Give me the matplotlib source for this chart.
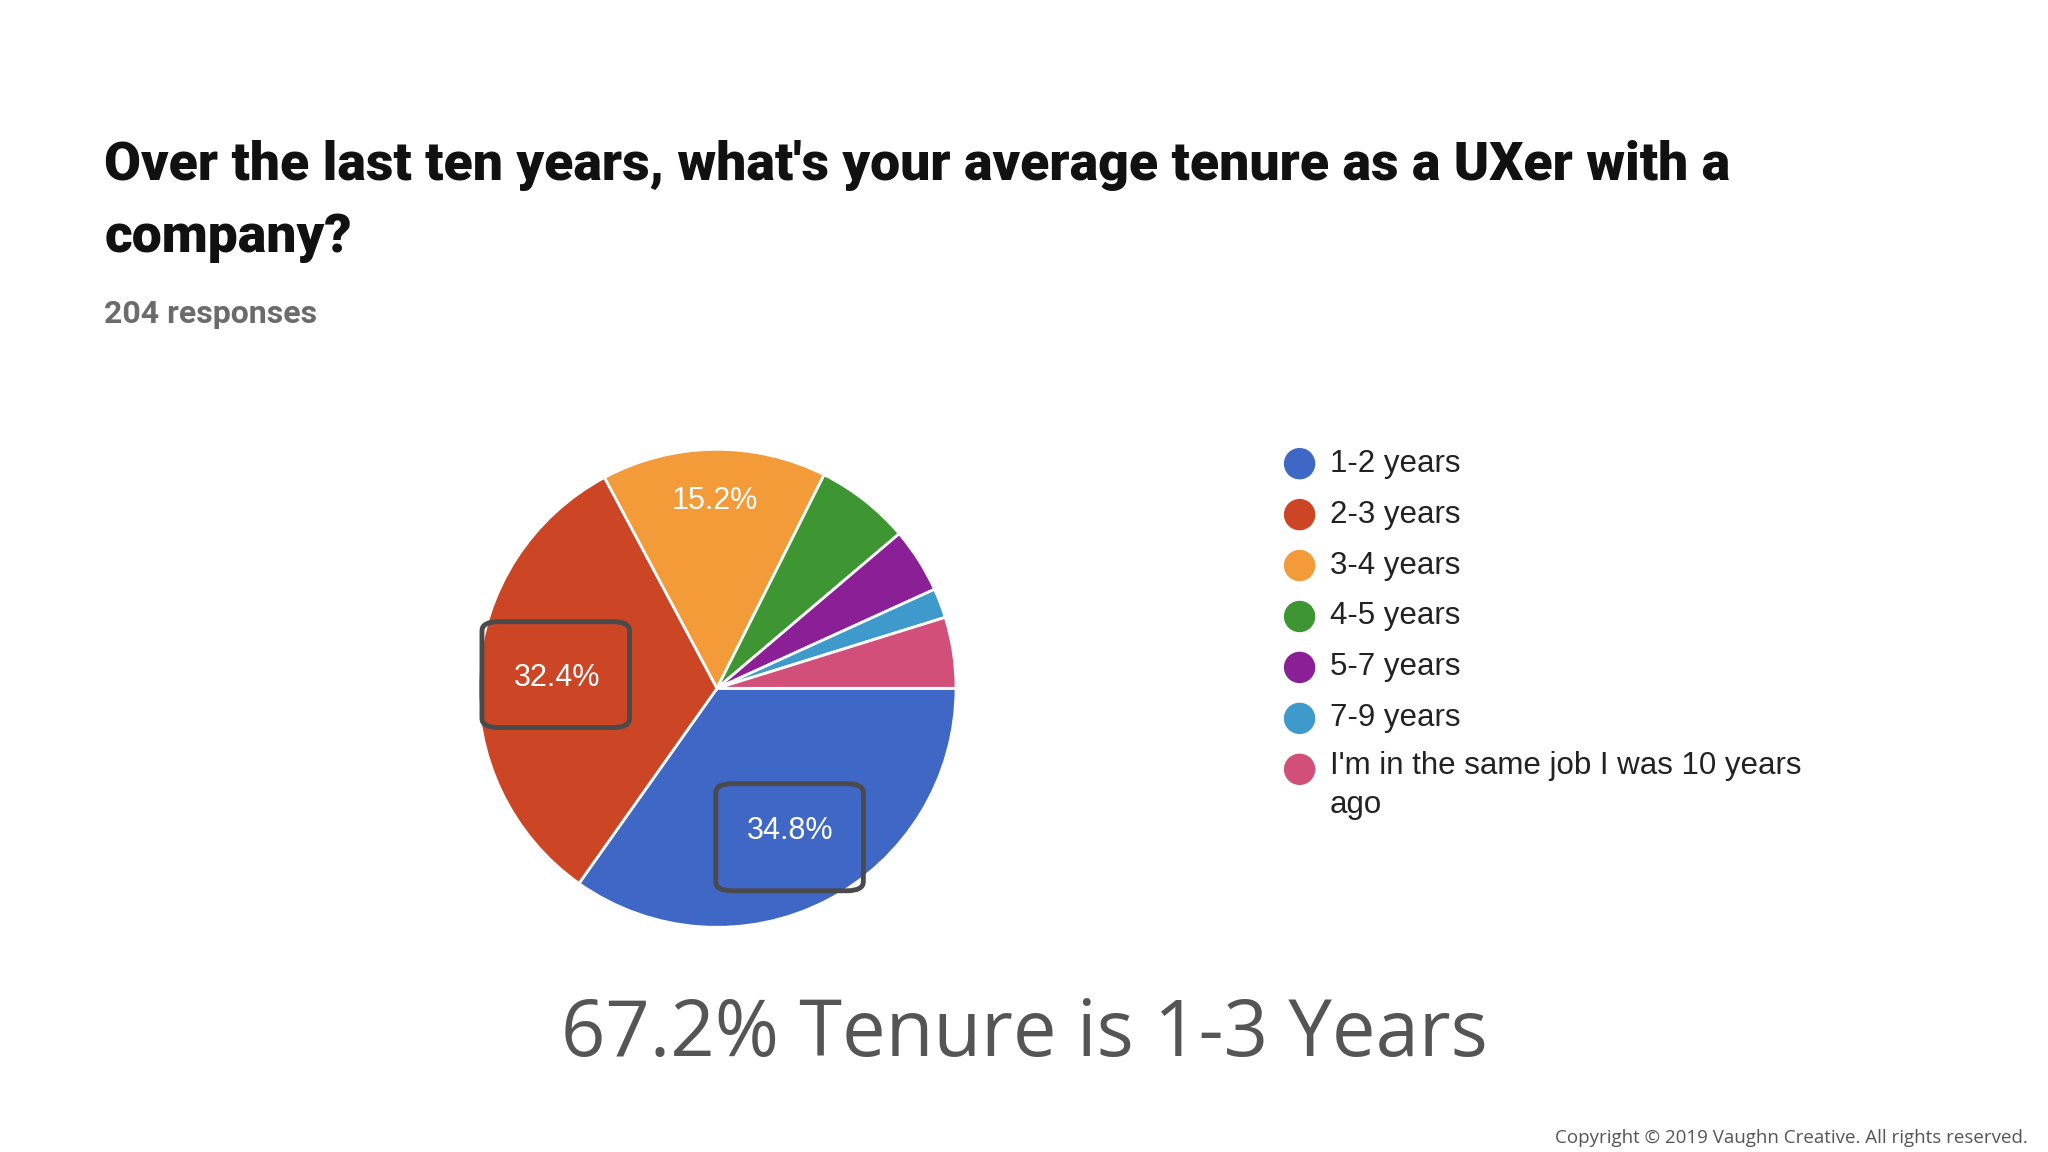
import matplotlib
matplotlib.use("Agg")
import matplotlib.pyplot as plt
from matplotlib.patches import FancyBboxPatch

categorias = ["1-2 years", "2-3 years", "3-4 years", "4-5 years", "5-7 years",
              "7-9 years", "I'm in the same job I was 10 years\nago"]
porcentajes = [34.8, 32.4, 15.2, 6.4, 4.4, 2.0, 4.8]
colores = ["#3f67c6", "#cc4525", "#f29b38", "#3d9632", "#8b1f96", "#3d9acb", "#d24f7a"]

fig = plt.figure(figsize=(20.48, 11.52), dpi=100)

ax = fig.add_axes([0.2334, 0.195, 0.2334, 0.415])
wedges, textos, autos = ax.pie(
    porcentajes, colors=colores, startangle=0, counterclock=False,
    wedgeprops=dict(edgecolor="white", linewidth=2),
    autopct=lambda p: f"{p:.1f}%" if p > 10 else "", pctdistance=0.67,
    textprops=dict(color="white", fontsize=22, family="Liberation Sans"))
# la etiqueta de la porcion naranja va algo mas hacia el borde
x, y = autos[2].get_position()
autos[2].set_position((x * 1.17, y * 1.17))
ax.set_xlim(-1, 1)
ax.set_ylim(-1, 1)
ax.set_aspect("equal")

# recuadros de resalte alrededor de las dos porciones mayores
W, H = 2048, 1152
s = 2048 / 1568
for x0, y0, x1, y1 in [(369, 476, 482, 557), (548, 600, 661, 682)]:
    fig.patches.append(FancyBboxPatch(
        (x0 * s / W, 1 - y1 * s / H), (x1 - x0) * s / W, (y1 - y0) * s / H,
        boxstyle="round,pad=0,rounding_size=0.008", transform=fig.transFigure,
        fill=False, edgecolor="#4a4a4a", linewidth=3.5))

fig.text(0.051, 0.856, "Over the last ten years, what's your average tenure as a UXer with a",
         fontsize=38.5, fontweight="heavy", family="Roboto", color="#111", va="center")
fig.text(0.051, 0.794, "company?", fontsize=38.5, fontweight="heavy", family="Roboto",
         color="#111", va="center")
fig.text(0.051, 0.727, "204 responses", fontsize=23, fontweight="bold", family="Roboto",
         color="#6b6b6b", va="center")

filas_y = [355, 394, 433, 472, 511, 550, 589]
for nombre, color, yy in zip(categorias, colores, filas_y):
    fig.patches.append(plt.Circle((995 * s / 100, (H - yy * s) / 100), 0.15, color=color,
                                  transform=fig.dpi_scale_trans))
    multilinea = "\n" in nombre
    fig.text(1018 * s / W, 1 - (yy - 14) * s / H if multilinea else 1 - yy * s / H, nombre,
             fontsize=22.5, family="Liberation Sans", color="#222",
             va="top" if multilinea else "center", linespacing=1.4)

fig.text(0.5, 1 - 793 * s / H, "67.2% Tenure is 1-3 Years", fontsize=56,
         family="Open Sans", color="#555", ha="center", va="center")
fig.text(0.99, 1 - 871 * s / H, "Copyright \u00a9 2019 Vaughn Creative. All rights reserved.",
         fontsize=13.5, family="Open Sans", color="#555", ha="right", va="center")

fig.savefig("out.png", dpi=100)
